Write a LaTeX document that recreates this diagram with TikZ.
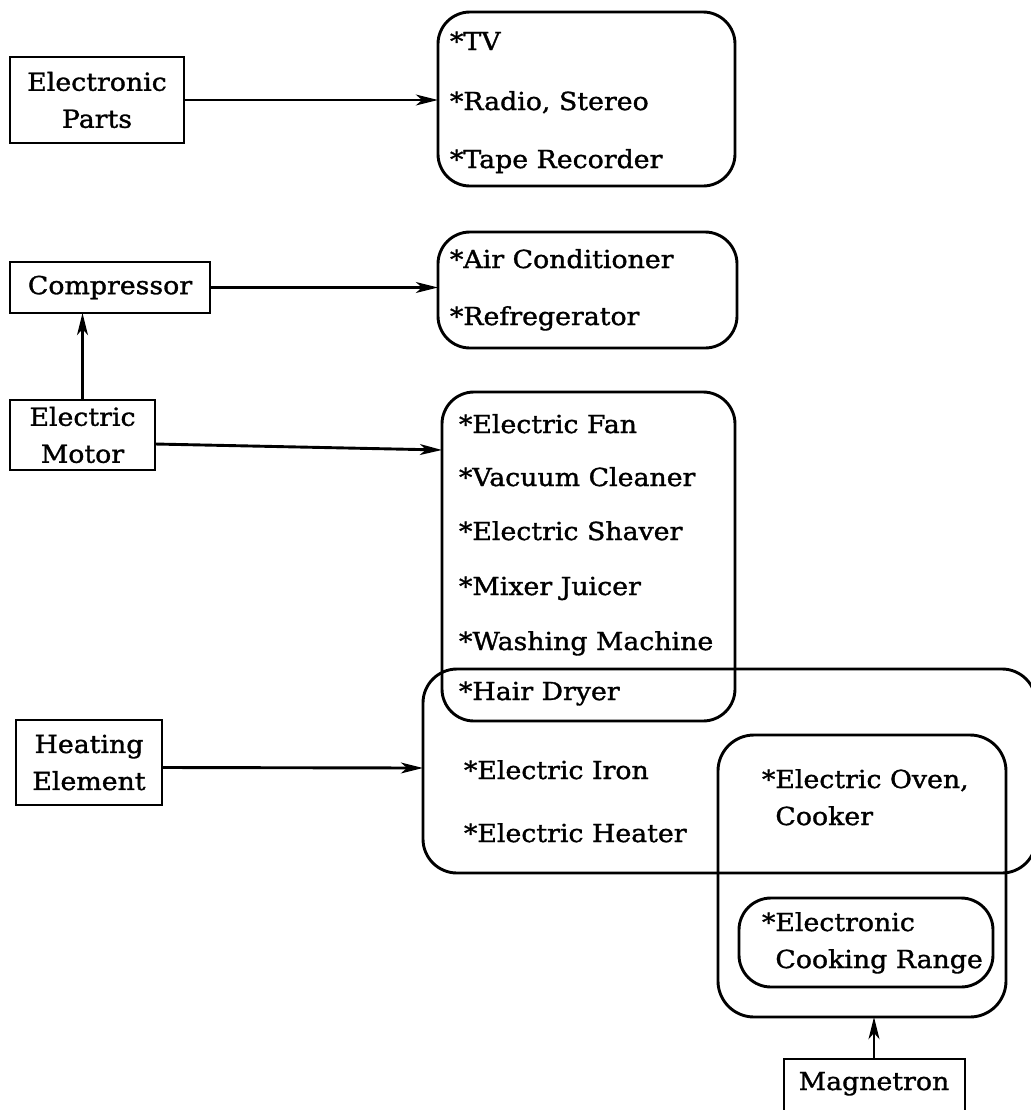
\documentclass[tikz,border=0pt]{standalone}
\usepackage{fontspec}
\setmainfont{DejaVu Serif}[FakeStretch=1.08,FakeBold=1.3]
\usetikzlibrary{arrows.meta,calc,fit}

\begin{document}
\begin{tikzpicture}[x=0.5pt,y=-0.5pt,
  line width=1.45pt,
  every node/.style={inner sep=0pt, outer sep=0pt},
  lbl/.style={font=\fontsize{12.4}{18.5}\selectfont},
  item/.style={lbl, anchor=base west},
  src/.style={draw, lbl, align=center},
  group/.style={draw, rounded corners=#1},
  arr/.style={-{Stealth[length=11pt,width=5.4pt,inset=3pt]}}
]
\useasboundingbox (0,0) rectangle (1031,1110);

% source boxes
\node[src, minimum width=87pt, minimum height=43pt] (ep) at (97,100) {Electronic\\Parts};
\node[src, minimum width=100pt, minimum height=25.5pt] (comp) at (110,287.5) {Compressor};
\node[src, minimum width=72.5pt, minimum height=35pt] (motor) at (82.5,435) {Electric\\Motor};
\node[src, minimum width=73pt, minimum height=42.5pt] (heat) at (89,762.5) {Heating\\Element};
\node[draw, fit={(784,1059) (965,1130)}] (mag) {};
\node[lbl, anchor=base] (magtxt) at (874,1090) {Magnetron};

% product groups
\node[group=16pt, fit={(438,12) (735,186)}] (tv) {};
\node[group=16pt, fit={(438,232) (737,348)}] (air) {};
\node[group=16pt, fit={(442,392) (735,721)}] (fan) {};
\node[group=17pt, fit={(423,669) (1036,873)}] (hot) {};
\node[group=18pt, fit={(718,735) (1006,1017)}] (oven) {};
\node[group=16pt, fit={(739,898) (993,987)}] (range) {};

% entries
\node[item] (t1) at (450,50) {*TV};
\node[item] (t2) at (450,110) {*Radio, Stereo};
\node[item] (t3) at (450,168) {*Tape Recorder};

\node[item] (a1) at (450,268) {*Air Conditioner};
\node[item] (a2) at (450,325) {*Refregerator};

\node[item] (f1) at (459,433) {*Electric Fan};
\node[item] (f2) at (459,486) {*Vacuum Cleaner};
\node[item] (f3) at (459,540) {*Electric Shaver};
\node[item] (f4) at (459,595) {*Mixer Juicer};
\node[item] (f5) at (459,650) {*Washing Machine};
\node[item] (f6) at (459,700) {*Hair Dryer};

\node[item] (h1) at (464,779) {*Electric Iron};
\node[item] (h2) at (464,842) {*Electric Heater};

% two-line entries: the base anchor sits on the last line
\node[item, align=left] (o1) at (762,825) {*Electric Oven,\\\phantom{*}Cooker};
\node[item, align=left] (r1) at (762,968) {*Electronic\\\phantom{*}Cooking Range};

% connectors
\draw[arr] (ep.east) -- (ep.east -| tv.west);
\draw[arr] (comp.east) -- (comp.east -| air.west);
\draw[arr] (motor.north) -- (motor.north |- comp.south);
\draw[arr] ($(motor.east)+(0,9)$) -- (fan.west |- 0,450);
\draw[arr] ($(heat.east)+(0,5)$) -- (hot.west |- 0,768);
\draw[arr] (mag.north -| magtxt) -- (magtxt |- oven.south);
\end{tikzpicture}
\end{document}
